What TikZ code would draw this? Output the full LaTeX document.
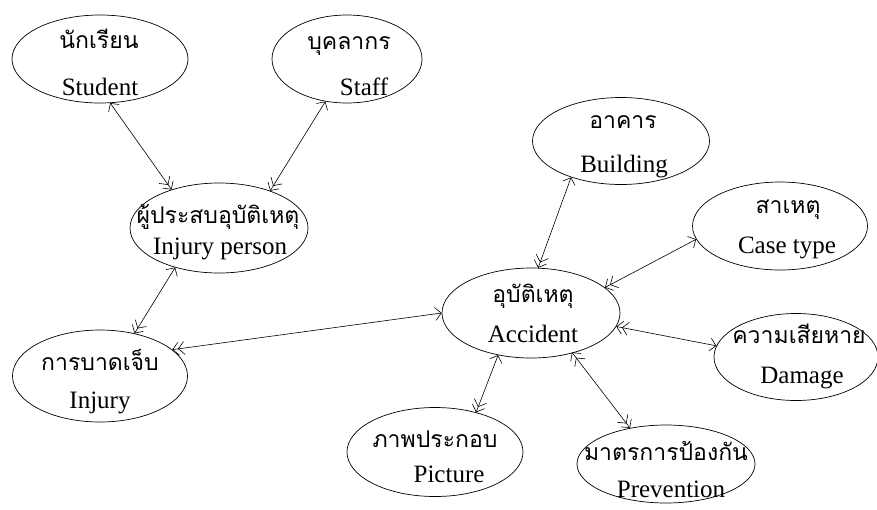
\documentclass[tikz,border=0pt]{standalone}
\usepackage{fontspec}
\setmainfont{Liberation Serif}
\newfontfamily\thaifont[Script=Thai]{Loma}
\usetikzlibrary{shapes.geometric,arrows.meta}
\begin{document}
\begin{tikzpicture}[x=1pt,y=-1pt,
  ent/.style={draw,ellipse,inner sep=0pt,line width=0.7pt},
  th/.style={anchor=base,inner sep=0pt,font=\thaifont\fontsize{23}{23}\selectfont},
  en/.style={anchor=base,inner sep=0pt,font=\fontsize{25}{25}\selectfont},
  sd/.style={line width=0.6pt,{Straight Barb[length=6pt,width=13pt]}-{Straight Barb[length=6pt,width=13pt,sep=-1pt]Straight Barb[length=6pt,width=13pt]}},
  dd/.style={line width=0.6pt,{Straight Barb[length=6pt,width=13pt,sep=-1pt]Straight Barb[length=6pt,width=13pt]}-{Straight Barb[length=6pt,width=13pt,sep=-1pt]Straight Barb[length=6pt,width=13pt]}}]
\useasboundingbox (0,0) rectangle (877,509);
% entities
\node[ent,minimum width=176pt,minimum height=88pt] (stu) at (100,59) {};
\node[ent,minimum width=150pt,minimum height=88pt] (stf) at (347,59) {};
\node[ent,minimum width=178pt,minimum height=90pt] (injp) at (219,228) {};
\node[ent,minimum width=175pt,minimum height=92pt] (inj) at (100,376) {};
\node[ent,minimum width=177pt,minimum height=87pt] (bld) at (621,141) {};
\node[ent,minimum width=175pt,minimum height=88pt] (cas) at (780,226) {};
\node[ent,minimum width=178pt,minimum height=90pt] (acc) at (531,313) {};
\node[ent,minimum width=164pt,minimum height=87pt] (dam) at (796,357) {};
\node[ent,minimum width=176pt,minimum height=89pt] (pic) at (435,452) {};
\node[ent,minimum width=178pt,minimum height=78pt] (prv) at (666,464) {};
% texts
\node[th] (stuT) at (99,48) {นักเรียน};
\node[en] (stuE) at (100,95) {Student};
\node[th] (stfT) at (349,49) {บุคลากร};
\node[en] (stfE) at (364,95) {Staff};
\node[th] (injpT) at (218,223) {ผู้ประสบอุบัติเหตุ};
\node[en] (injpE) at (220,254) {Injury person};
\node[th] (injT) at (100,370) {การบาดเจ็บ};
\node[en] (injE) at (100,408) {Injury};
\node[th] (bldT) at (623,128) {อาคาร};
\node[en] (bldE) at (624,172) {Building};
\node[th] (casT) at (788,213) {สาเหตุ};
\node[en] (casE) at (787,253) {Case type};
\node[th] (accT) at (533,302) {อุบัติเหตุ};
\node[en] (accE) at (533,342) {Accident};
\node[th] (damT) at (799,343) {ความเสียหาย};
\node[en] (damE) at (802,383) {Damage};
\node[th] (picT) at (435,447) {ภาพประกอบ};
\node[en] (picE) at (449,482) {Picture};
\node[th] (prvT) at (666,460) {มาตรการป้องกัน};
\node[en] (prvE) at (671,497) {Prevention};
% connectors
\draw[sd] (stu.283) -- (injp.141);
\draw[sd] (stf.243) -- (injp.36);
\draw[sd] (injp.222) -- (inj.51);
\draw[sd] (acc.180) -- (inj.20);
\draw[sd] (bld.216) -- (acc.81);
\draw[sd] (cas.189) -- (acc.19);
\draw[sd] (dam.172) -- (acc.351);
\draw[sd] (acc.232) -- (pic.44);
\draw[dd] (acc.316) -- (prv.135);
\end{tikzpicture}
\end{document}
